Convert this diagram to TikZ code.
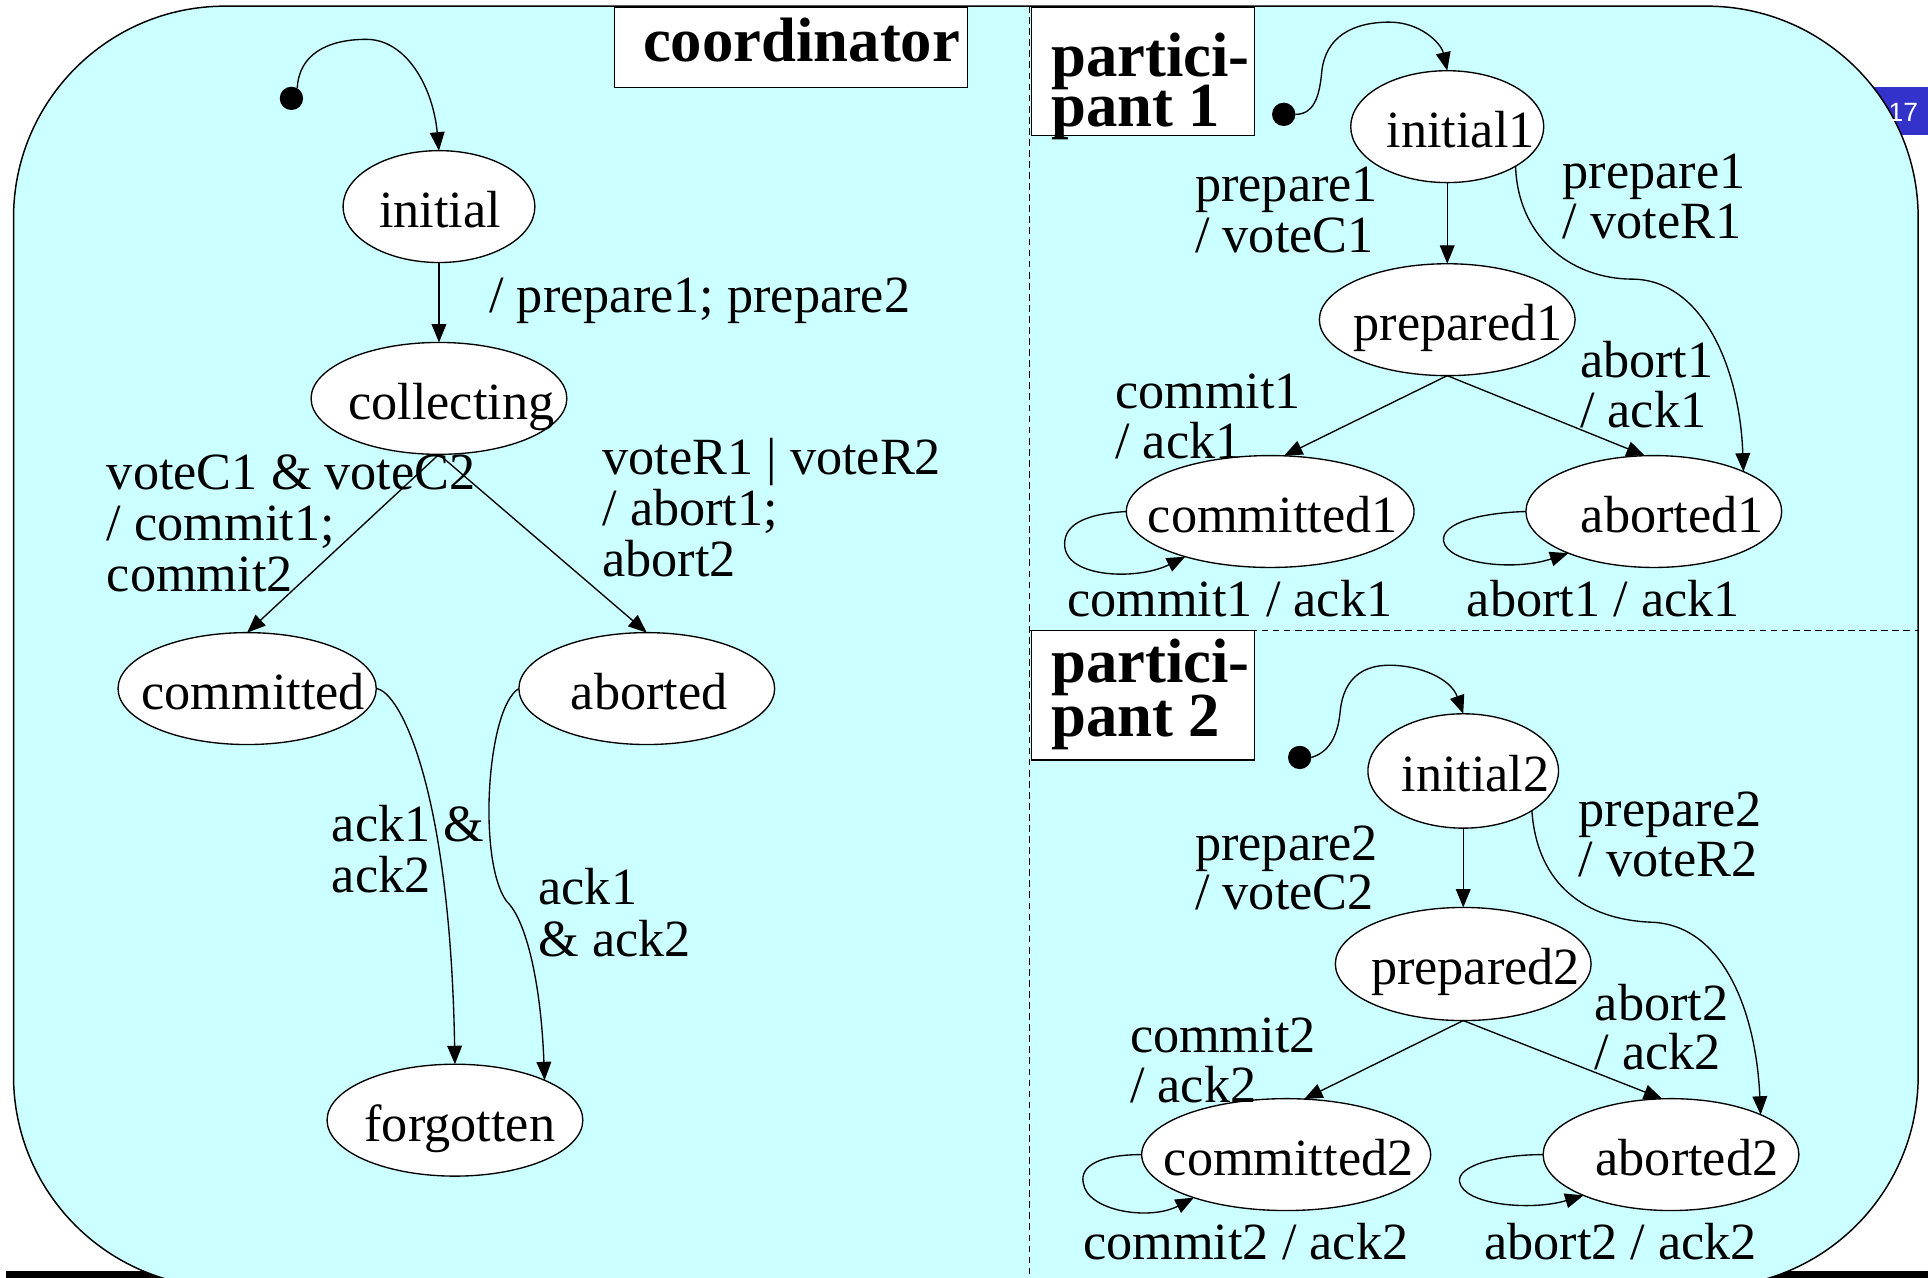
\documentclass[tikz,border=0pt]{standalone}
\usepackage{fontspec}
\setmainfont{Liberation Serif}
\newfontfamily\pagenumfont{Liberation Sans}
\usetikzlibrary{arrows.meta,shapes.geometric}
\definecolor{panelcyan}{RGB}{204,255,255}
\definecolor{pageblue}{RGB}{51,51,204}
% stacked text rows; the baseline of the block is that of its first row
\newcommand\rowsof[2]{\vtop{\baselineskip=#1pt\lineskiplimit=-100pt\lineskip=0pt #2}}
\begin{document}
\begin{tikzpicture}[x=1pt,y=-1pt,
  every node/.style={inner sep=0pt, outer sep=0pt},
  state/.style={ellipse, draw, fill=white, line width=1.1pt, minimum height=91pt},
  statetext/.style={anchor=base, font=\fontsize{42.5}{41.5}\selectfont},
  lbl/.style={anchor=base west, font=\fontsize{42.5}{41.5}\selectfont},
  titletext/.style={anchor=base west, font=\fontsize{51}{42}\selectfont\bfseries},
  titlebox/.style={draw, fill=white, line width=1.1pt, anchor=north west},
  edge/.style={draw, line width=1.1pt, -{Triangle[length=15pt,width=12pt]}},
  startdot/.style={circle, fill=black, minimum size=19pt},
  divider/.style={line width=0.9pt, dash pattern=on 5.5pt off 3.5pt},
]
\useasboundingbox (0,0) rectangle (1568,1039);
\clip (0,0) rectangle (1568,1039);
\fill[white] (0,0) rectangle (1568,1039);

% footer bar and page tab behind the panel
\fill[black] (5,1034) rectangle (1568,1039);
\fill[pageblue] (1523,71) rectangle (1568,110);

% the panel
\draw[fill=panelcyan, line width=1.2pt, rounded corners=172pt] (11,5) rectangle (1560,1047);
\node[text=white, anchor=base, font=\pagenumfont\fontsize{21.5}{21.5}\selectfont] (pagenum) at (1548,98.5) {17};

% region dividers
\draw[divider] (837,5) -- (837,1039);
\draw[divider] (837,513) -- (1560,513);

% region titles
\node[titlebox, minimum width=287pt, minimum height=65pt] (coordbox) at (500,6) {};
\node[titletext] (coordtitle) at (523,50) {coordinator};
\node[titlebox, minimum width=181pt, minimum height=104pt] (p1box) at (839,6) {};
\node[titletext] (p1title) at (855,62) {\rowsof{41}{\hbox{partici-}\hbox{pant 1}}};
\node[titlebox, minimum width=181pt, minimum height=105pt] (p2box) at (839,513) {};
\node[titletext] (p2title) at (855,555) {\rowsof{44}{\hbox{partici-}\hbox{pant 2}}};

% ---------------- coordinator ----------------
\node[startdot] (s0) at (237,80) {};
\node[state, minimum width=156pt] (init) at (357,168) {};
\node[statetext] at ([xshift=1pt,yshift=-17pt]init.center) {initial};
\node[state, minimum width=208pt] (coll) at (357,324) {};
\node[statetext] at ([xshift=10pt,yshift=-17pt]coll.center) {collecting};
\node[state, minimum width=210pt] (comm) at (201,560) {};
\node[statetext] at ([xshift=5pt,yshift=-17pt]comm.center) {committed};
\node[state, minimum width=208pt] (abor) at (526,560) {};
\node[statetext] at ([xshift=2pt,yshift=-17pt]abor.center) {aborted};
\node[state, minimum width=208pt] (forg) at (370,911) {};
\node[statetext] at ([xshift=4pt,yshift=-17pt]forg.center) {forgotten};

\draw[edge] (s0.60) .. controls (243,45) and (265,32) .. (298,32) .. controls (330,32) and (352,70) .. (init.north);
\draw[edge] (init) -- (coll);
\draw[edge] (coll.south) -- (comm.north);
\draw[edge] (coll.south) -- (abor.north);
\draw[edge] (comm.east) .. controls (325,562) and (366,640) .. (forg.north);
\draw[edge] (abor.west) .. controls (396,575) and (388,700) .. (412,733) .. controls (428,748) and (440,800) .. (forg.24);

\node[lbl] at (398,254) {/ prepare1; prepare2};
\node[lbl] at (87,398) {\rowsof{41.5}{\hbox{voteC1 \& voteC2}\hbox{/ commit1;}\hbox{commit2}}};
\node[lbl] at (490,386) {\rowsof{41.5}{\hbox{voteR1 | voteR2}\hbox{/ abort1;}\hbox{abort2}}};
\node[lbl] at (270,684) {\rowsof{41.5}{\hbox{ack1 \&}\hbox{ack2}}};
\node[lbl] at (438,736) {\rowsof{41.5}{\hbox{ack1}\hbox{\& ack2}}};

% ---------------- participant 1 ----------------
\node[startdot] (s1) at (1044,93) {};
\node[state, minimum width=157pt] (ini1) at (1177,103) {};
\node[statetext] at ([xshift=11pt,yshift=-17pt]ini1.center) {initial1};
\node[state, minimum width=208pt] (prep1) at (1177,260) {};
\node[statetext] at ([xshift=9pt,yshift=-17pt]prep1.center) {prepared1};
\node[state, minimum width=234pt] (comm1) at (1033,416) {};
\node[statetext] at ([xshift=2pt,yshift=-17pt]comm1.center) {committed1};
\node[state, minimum width=208pt] (abor1) at (1345,416) {};
\node[statetext] at ([xshift=15pt,yshift=-17pt]abor1.center) {aborted1};

\draw[edge] (s1.east) .. controls (1068,93) and (1073,80) .. (1075,58) .. controls (1078,30) and (1100,18) .. (1130,18) .. controls (1155,18) and (1172,35) .. (ini1.north);
\draw[edge] (ini1) -- (prep1);
\draw[edge] (ini1.-30) .. controls (1234,190) and (1275,227) .. (1328,227) .. controls (1385,228) and (1415,300) .. (abor1.24);
\draw[edge] (prep1.south) -- (comm1.76);
\draw[edge] (prep1.south) -- (abor1.99);
\draw[edge] (comm1.west) .. controls (880,418) and (864,428) .. (866,445) .. controls (869,470) and (925,472) .. (comm1.-152);
\draw[edge] (abor1.west) .. controls (1205,417) and (1172,425) .. (1174,440) .. controls (1177,458) and (1230,465) .. (abor1.-154);

\node[lbl] at (972,164) {\rowsof{41}{\hbox{prepare1}\hbox{/ voteC1}}};
\node[lbl] at (1271,153) {\rowsof{41}{\hbox{prepare1}\hbox{/ voteR1}}};
\node[lbl] at (907,332) {\rowsof{41}{\hbox{commit1}\hbox{/ ack1}}};
\node[lbl] at (1285,307) {\rowsof{41}{\hbox{abort1}\hbox{/ ack1}}};
\node[lbl] at (868,501) {commit1 / ack1};
\node[lbl] at (1193,501) {abort1 / ack1};

% ---------------- participant 2 ----------------
\node[startdot] (s2) at (1057,616) {};
\node[state, minimum width=155pt, minimum height=93pt] (ini2) at (1190,627) {};
\node[statetext] at ([xshift=10pt,yshift=-17pt]ini2.center) {initial2};
\node[state, minimum width=208pt, minimum height=92pt] (prep2) at (1190,784) {};
\node[statetext] at ([xshift=10pt,yshift=-17pt]prep2.center) {prepared2};
\node[state, minimum width=235pt] (comm2) at (1046,939) {};
\node[statetext] at ([xshift=2pt,yshift=-17pt]comm2.center) {committed2};
\node[state, minimum width=208pt] (abor2) at (1359,939) {};
\node[statetext] at ([xshift=13pt,yshift=-17pt]abor2.center) {aborted2};

\draw[edge] (s2.east) .. controls (1080,612) and (1088,600) .. (1090,578) .. controls (1093,550) and (1110,541) .. (1130,541) .. controls (1155,541) and (1180,552) .. (ini2.north);
\draw[edge] (ini2) -- (prep2);
\draw[edge] (ini2.-30) .. controls (1250,720) and (1290,748) .. (1343,750) .. controls (1400,752) and (1428,820) .. (abor2.24);
\draw[edge] (prep2.south) -- (comm2.72);
\draw[edge] (prep2.south) -- (abor2.99);
\draw[edge] (comm2.west) .. controls (895,939) and (878,948) .. (881,962) .. controls (884,985) and (935,993) .. (comm2.-155);
\draw[edge] (abor2.west) .. controls (1218,939) and (1185,948) .. (1187,961) .. controls (1190,980) and (1245,985) .. (abor2.-155);

\node[lbl] at (972,700) {\rowsof{40}{\hbox{prepare2}\hbox{/ voteC2}}};
\node[lbl] at (1284,672) {\rowsof{41}{\hbox{prepare2}\hbox{/ voteR2}}};
\node[lbl] at (919,856) {\rowsof{41}{\hbox{commit2}\hbox{/ ack2}}};
\node[lbl] at (1297,830) {\rowsof{40}{\hbox{abort2}\hbox{/ ack2}}};
\node[lbl] at (881,1024) {commit2 / ack2};
\node[lbl] at (1207,1024) {abort2 / ack2};
\end{tikzpicture}
\end{document}
